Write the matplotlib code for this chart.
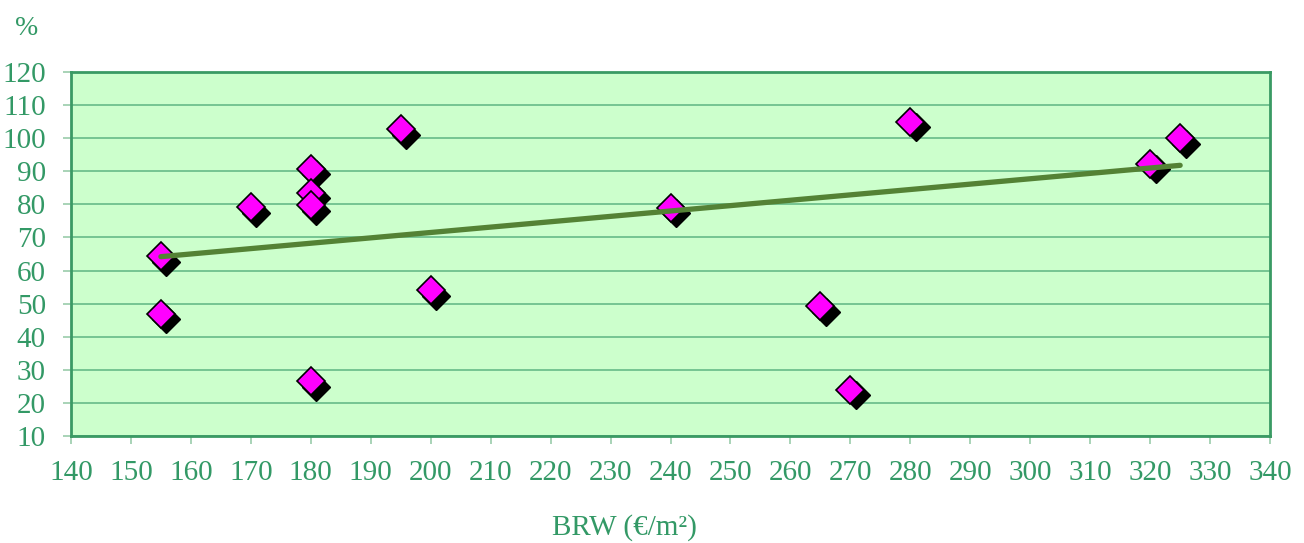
import numpy as np
import matplotlib.pyplot as plt
import matplotlib.transforms as mtransforms

# datos
brw = [155, 155, 170, 180, 180, 180, 180, 195, 200, 240, 265, 270, 280, 320, 325]
pct = [64.3, 47, 79.2, 90.7, 83.5, 79.8, 26.5, 102.7, 54.1, 79, 49.2, 24, 105, 92.3, 100]

# linea de tendencia (extremos)
tend_x = [155, 325]
tend_y = [64.2, 91.8]

xticks = list(range(140, 341, 10))
yticks = list(range(10, 121, 10))

verde_txt = '#339966'
plt.rcParams['font.family'] = ['Liberation Serif', 'DejaVu Serif']

fig = plt.figure(figsize=(13.04, 5.43), dpi=100)
ax = fig.add_axes([0.0544, 0.197, 0.9196, 0.6704])
ax.set_facecolor('#CCFFCC')

ax.set_xlim(140, 340)
ax.set_ylim(10, 120)
ax.set_xticks(xticks)
ax.set_yticks(yticks)
ax.grid(True, axis='y', color='#66BB88', linewidth=1.2)
ax.set_axisbelow(True)

# sombra de los rombos
sombra = ax.transData + mtransforms.ScaledTranslation(5.5 / 100, -5.5 / 100, fig.dpi_scale_trans)
ax.plot(brw, pct, linestyle='none', marker='D', markersize=14,
        color='black', transform=sombra, zorder=3)
ax.plot(brw, pct, linestyle='none', marker='D', markersize=14,
        markerfacecolor='#FF00FF', markeredgecolor='black', markeredgewidth=1.2, zorder=4)

ax.plot(tend_x, tend_y, color='#548235', linewidth=3.8, solid_capstyle='round', zorder=5)

for lado in ['left', 'right', 'top', 'bottom']:
    ax.spines[lado].set_color('#3A9A64')
    ax.spines[lado].set_linewidth(2)

ax.tick_params(axis='both', colors='#99CCAA', labelcolor=verde_txt,
               labelsize=21, length=6, width=1.2)
ax.tick_params(axis='x', pad=11)
ax.tick_params(axis='y', pad=12)

fig.text(0.0207, 0.948, '%', color=verde_txt, fontsize=20, ha='center', va='center')
fig.text(0.479, 0.028, 'BRW (€/m²)', color=verde_txt, fontsize=21, ha='center', va='center')

fig.savefig('out.png', dpi=100)
